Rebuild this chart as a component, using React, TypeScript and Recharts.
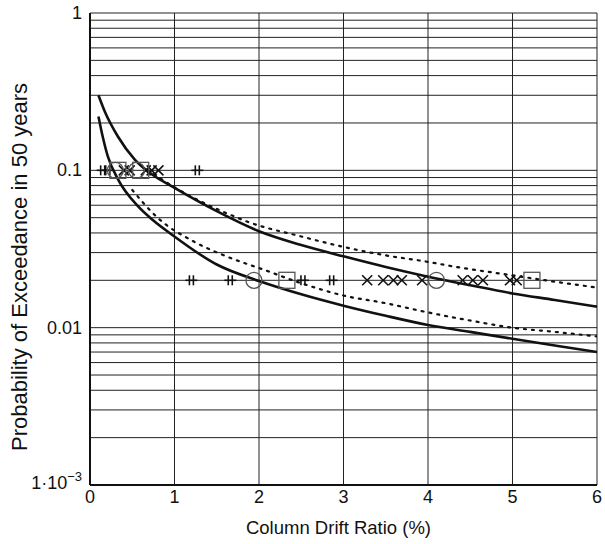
import React from 'react';
import { ComposedChart, Line, Scatter, XAxis, YAxis, CartesianGrid } from 'recharts';

// Tick values
const xTicks = [0, 1, 2, 3, 4, 5, 6];
const yTicks = [
  0.001, 0.002, 0.003, 0.004, 0.005, 0.006, 0.007, 0.008, 0.009,
  0.01, 0.02, 0.03, 0.04, 0.05, 0.06, 0.07, 0.08, 0.09,
  0.1, 0.2, 0.3, 0.4, 0.5, 0.6, 0.7, 0.8, 0.9, 1,
];
const decadeLabels: Record<string, string> = { '1': '1', '0.1': '0.1', '0.01': '0.01' };

// Fitted curves (solid) and their dotted counterparts
const upperSolid = [
  { x: 0.1, y: 0.30 }, { x: 0.18, y: 0.233 }, { x: 0.33, y: 0.164 }, { x: 0.53, y: 0.117 },
  { x: 0.75, y: 0.093 }, { x: 0.97, y: 0.079 }, { x: 1.5, y: 0.055 }, { x: 2, y: 0.041 },
  { x: 2.5, y: 0.0335 }, { x: 3, y: 0.0284 }, { x: 3.5, y: 0.0243 }, { x: 4, y: 0.0211 },
  { x: 4.5, y: 0.0186 }, { x: 5, y: 0.0165 }, { x: 5.5, y: 0.0150 }, { x: 6, y: 0.0136 },
];
const lowerSolid = [
  { x: 0.1, y: 0.22 }, { x: 0.15, y: 0.164 }, { x: 0.21, y: 0.123 }, { x: 0.33, y: 0.088 },
  { x: 0.57, y: 0.059 }, { x: 0.75, y: 0.048 }, { x: 0.97, y: 0.039 }, { x: 1.5, y: 0.0252 },
  { x: 2, y: 0.0198 }, { x: 2.5, y: 0.0163 }, { x: 3, y: 0.0138 }, { x: 3.5, y: 0.0119 },
  { x: 4, y: 0.0104 }, { x: 4.5, y: 0.0094 }, { x: 5, y: 0.0085 }, { x: 5.5, y: 0.0077 },
  { x: 6, y: 0.0070 },
];
const upperDotted = [
  { x: 0.6, y: 0.108 }, { x: 1, y: 0.078 }, { x: 1.2, y: 0.068 }, { x: 1.63, y: 0.053 },
  { x: 1.87, y: 0.047 }, { x: 2.5, y: 0.038 }, { x: 3, y: 0.0326 }, { x: 3.5, y: 0.0288 },
  { x: 4, y: 0.0262 }, { x: 4.3, y: 0.0245 }, { x: 5, y: 0.0215 }, { x: 5.5, y: 0.0196 },
  { x: 6, y: 0.0180 },
];
const lowerDotted = [
  { x: 0.5, y: 0.075 }, { x: 0.8, y: 0.050 }, { x: 1.24, y: 0.035 }, { x: 1.6, y: 0.0286 },
  { x: 2.09, y: 0.023 }, { x: 2.52, y: 0.019 }, { x: 3, y: 0.0160 }, { x: 3.5, y: 0.0143 },
  { x: 4, y: 0.0125 }, { x: 4.5, y: 0.0111 }, { x: 5, y: 0.0100 }, { x: 5.5, y: 0.0094 },
  { x: 6, y: 0.0088 },
];

// Observed data markers
const tickMarks = [
  { x: 0.15, y: 0.1 }, { x: 0.21, y: 0.1 }, { x: 1.27, y: 0.1 },
  { x: 1.2, y: 0.02 }, { x: 1.66, y: 0.02 }, { x: 2.52, y: 0.02 }, { x: 2.86, y: 0.02 },
];
const crossMarks = [
  { x: 0.4, y: 0.1 }, { x: 0.47, y: 0.1 }, { x: 0.66, y: 0.1 }, { x: 0.73, y: 0.1 }, { x: 0.81, y: 0.1 },
  { x: 3.28, y: 0.02 }, { x: 3.47, y: 0.02 }, { x: 3.59, y: 0.02 }, { x: 3.69, y: 0.02 }, { x: 3.93, y: 0.02 },
  { x: 4.41, y: 0.02 }, { x: 4.53, y: 0.02 }, { x: 4.65, y: 0.02 }, { x: 4.97, y: 0.02 }, { x: 5.05, y: 0.02 },
];
const circleMarks = [
  { x: 0.3, y: 0.1 }, { x: 0.55, y: 0.1 },
  { x: 1.94, y: 0.02 }, { x: 4.1, y: 0.02 },
];
const squareMarks = [
  { x: 0.33, y: 0.1 }, { x: 0.6, y: 0.1 },
  { x: 2.33, y: 0.02 }, { x: 5.23, y: 0.02 },
];

const FONT = '"Liberation Sans", Arial, sans-serif';
const INK = '#111';

const TickShape = (p: any) => (
  <g stroke={INK} strokeWidth={1.6}>
    <line x1={p.cx - 2} y1={p.cy - 5} x2={p.cx - 2} y2={p.cy + 5} />
    <line x1={p.cx + 2} y1={p.cy - 5} x2={p.cx + 2} y2={p.cy + 5} />
    <line x1={p.cx - 6} y1={p.cy} x2={p.cx + 6} y2={p.cy} />
  </g>
);
const CrossShape = (p: any) => (
  <g stroke={INK} strokeWidth={1.6}>
    <line x1={p.cx - 5} y1={p.cy - 5} x2={p.cx + 5} y2={p.cy + 5} />
    <line x1={p.cx - 5} y1={p.cy + 5} x2={p.cx + 5} y2={p.cy - 5} />
  </g>
);
const CircleShape = (p: any) => (
  <circle cx={p.cx} cy={p.cy} r={8} fill="none" stroke="#555" strokeWidth={1.3} />
);
const SquareShape = (p: any) => (
  <rect x={p.cx - 8} y={p.cy - 8} width={16} height={16} fill="none" stroke="#555" strokeWidth={1.3} />
);

const YTick = (props: any) => {
  const { x, y, payload } = props;
  const v = payload.value;
  if (Math.abs(v - 0.001) < 1e-9) {
    return (
      <text x={x} y={y} dy={4} textAnchor="end" fontFamily={FONT} fontSize={18} fill={INK}>
        1·10<tspan dy={-8} fontSize={13}>−3</tspan>
      </text>
    );
  }
  const lab = decadeLabels[String(v)];
  if (!lab) return null;
  return (
    <text x={x} y={y} dy={6} textAnchor="end" fontFamily={FONT} fontSize={18} fill={INK}>
      {lab}
    </text>
  );
};

const XTick = (props: any) => {
  const { x, y, payload } = props;
  return (
    <text x={x} y={y} dy={14} textAnchor="middle" fontFamily={FONT} fontSize={18} fill={INK}>
      {payload.value}
    </text>
  );
};

const YLabel = (props: any) => {
  const vb = props.viewBox || { x: 0, y: 13, width: 90, height: 472 };
  const cx = vb.x + 19;
  const cy = vb.y + vb.height / 2 + 18;
  return (
    <text x={cx} y={cy} transform={`rotate(-90 ${cx} ${cy})`} textAnchor="middle" dominantBaseline="central"
      fontFamily={FONT} fontSize={22} fill={INK}>
      Probability of Exceedance in 50 years
    </text>
  );
};

const XLabel = (props: any) => {
  const vb = props.viewBox || { x: 90, y: 485, width: 507, height: 59 };
  const cx = vb.x + vb.width / 2 - 5;
  const cy = vb.y + 42;
  return (
    <text x={cx} y={cy} textAnchor="middle" dominantBaseline="central" fontFamily={FONT} fontSize={18.5} fill={INK}>
      Column Drift Ratio (%)
    </text>
  );
};

export default function App() {
  return (
    <div style={{ position: 'absolute', left: 0, top: 0, background: '#fff' }}>
      <ComposedChart width={605} height={544} margin={{ top: 13, right: 8, bottom: 0, left: 0 }}>
        <CartesianGrid stroke="#222" strokeWidth={1} vertical horizontal />
        <XAxis
          type="number"
          dataKey="x"
          domain={[0, 6]}
          ticks={xTicks}
          allowDataOverflow
          height={59}
          tickLine={false}
          tickSize={0}
          tickMargin={4}
          axisLine={{ stroke: INK, strokeWidth: 2 }}
          tick={<XTick />}
          label={<XLabel />}
        />
        <YAxis
          type="number"
          dataKey="y"
          scale="log"
          domain={[0.001, 1]}
          ticks={yTicks}
          interval={0}
          allowDataOverflow
          width={90}
          tickLine={false}
          tickSize={0}
          tickMargin={8}
          axisLine={{ stroke: INK, strokeWidth: 2 }}
          tick={<YTick />}
          label={<YLabel />}
        />
        <Line data={upperDotted} dataKey="y" type="monotone" stroke={INK} strokeWidth={2.2}
          strokeDasharray="2 6" strokeLinecap="round" dot={false} isAnimationActive={false} />
        <Line data={lowerDotted} dataKey="y" type="monotone" stroke={INK} strokeWidth={2.2}
          strokeDasharray="2 6" strokeLinecap="round" dot={false} isAnimationActive={false} />
        <Line data={upperSolid} dataKey="y" type="monotone" stroke={INK} strokeWidth={2.6}
          dot={false} isAnimationActive={false} />
        <Line data={lowerSolid} dataKey="y" type="monotone" stroke={INK} strokeWidth={2.6}
          dot={false} isAnimationActive={false} />
        <Scatter data={tickMarks} dataKey="y" shape={TickShape} isAnimationActive={false} />
        <Scatter data={crossMarks} dataKey="y" shape={CrossShape} isAnimationActive={false} />
        <Scatter data={circleMarks} dataKey="y" shape={CircleShape} isAnimationActive={false} />
        <Scatter data={squareMarks} dataKey="y" shape={SquareShape} isAnimationActive={false} />
      </ComposedChart>
    </div>
  );
}
